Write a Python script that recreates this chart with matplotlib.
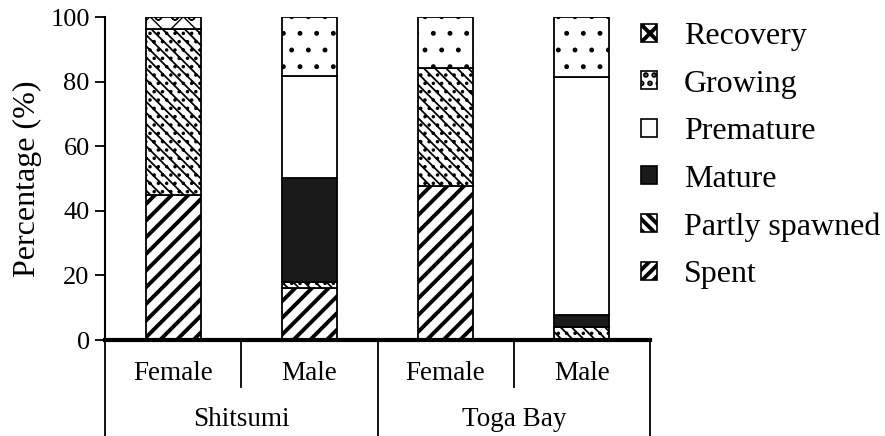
import matplotlib
matplotlib.use("Agg")
import matplotlib.pyplot as plt
from matplotlib.patches import Patch
import numpy as np

plt.rcParams['font.family'] = ['Liberation Serif', 'DejaVu Serif']

sexes = ['Female', 'Male', 'Female', 'Male']
sites = ['Shitsumi', 'Toga Bay']

# stages from bottom to top, values in %
stages = ['Spent', 'Partly spawned', 'Mature', 'Premature', 'Growing', 'Recovery']
spent = [45, 16, 47.8, 0]
partly = [51.3, 1.9, 36.5, 4.0]
mature = [0, 32.4, 0, 3.7]
premature = [0, 31.5, 0, 73.8]
growing = [0, 18.2, 15.7, 18.5]
recovery = [3.7, 0, 0, 0]
values = [spent, partly, mature, premature, growing, recovery]

# bar hatch, legend hatch, hatch line width
styles = {
    'Spent': dict(color='white', hatch='//', lhatch='///', hlw=2.8),
    'Partly spawned': dict(color='white', hatch='\\\\\\..', lhatch='\\\\\\', hlw=1.3),
    'Mature': dict(color='#1a1a1a', hatch=None, lhatch=None, hlw=1.0),
    'Premature': dict(color='white', hatch=None, lhatch=None, hlw=1.0),
    'Growing': dict(color='white', hatch='.', lhatch='..', hlw=1.1),
    'Recovery': dict(color='white', hatch='xo', lhatch='xx', hlw=1.0),
}

fig = plt.figure(figsize=(8.85, 4.36), dpi=100)
ax = fig.add_axes([105/885, 1-340/436, 545/885, 323/436])

x = np.arange(len(sexes))
bottom = np.zeros(len(sexes))
for name, vals in zip(stages, values):
    st = styles[name]
    plt.rcParams['hatch.linewidth'] = st['hlw']
    bars = ax.bar(x, vals, width=0.405, bottom=bottom, color=st['color'],
                  edgecolor='black', linewidth=1.3, hatch=st['hatch'], zorder=2)
    for b, v in zip(bars, vals):
        if hasattr(b, 'set_hatch_linewidth'):
            b.set_hatch_linewidth(st['hlw'])
        if v == 0:
            b.set_visible(False)
    bottom += np.array(vals)

ax.set_xlim(-0.5, 3.5)
ax.set_ylim(0, 100)
ax.set_yticks([0, 20, 40, 60, 80, 100])
ax.tick_params(axis='y', labelsize=19, length=7, width=1.3, direction='out', pad=4)
ax.set_xticks([])
for s in ['top', 'right']:
    ax.spines[s].set_visible(False)
ax.spines['left'].set_linewidth(1.5)
ax.spines['bottom'].set_linewidth(3)
ax.spines['left'].set_bounds(0, 100)
ax.set_ylabel('Percentage (%)', fontsize=23, labelpad=6)

# category table below the axis
tr = ax.get_xaxis_transform()
low = -0.30
mid = -0.146
for xv, y1 in [(-0.5, low), (0.5, mid), (1.5, low), (2.5, mid), (3.5, low)]:
    ax.plot([xv, xv], [0, y1], transform=tr, color='black', lw=1.3, clip_on=False)
for xv, lab in zip(x, sexes):
    ax.text(xv, -0.105, lab, transform=tr, ha='center', va='center', fontsize=19.5)
for xv, lab in zip([0.5, 2.5], sites):
    ax.text(xv, -0.245, lab, transform=tr, ha='center', va='center', fontsize=19.5)

handles = []
for name in reversed(stages):
    st = styles[name]
    plt.rcParams['hatch.linewidth'] = st['hlw']
    p = Patch(facecolor=st['color'], edgecolor='black', linewidth=1.2,
              hatch=st['lhatch'])
    if hasattr(p, 'set_hatch_linewidth'):
        p.set_hatch_linewidth(st['hlw'])
    handles.append(p)
fig.legend(handles, list(reversed(stages)), loc='upper left',
           bbox_to_anchor=(641/885, 1-22/436), frameon=False, fontsize=23,
           handlelength=0.5, handleheight=0.5, handletextpad=0.85,
           labelspacing=0.58, borderpad=0, borderaxespad=0)

fig.savefig('out.png', dpi=100)
